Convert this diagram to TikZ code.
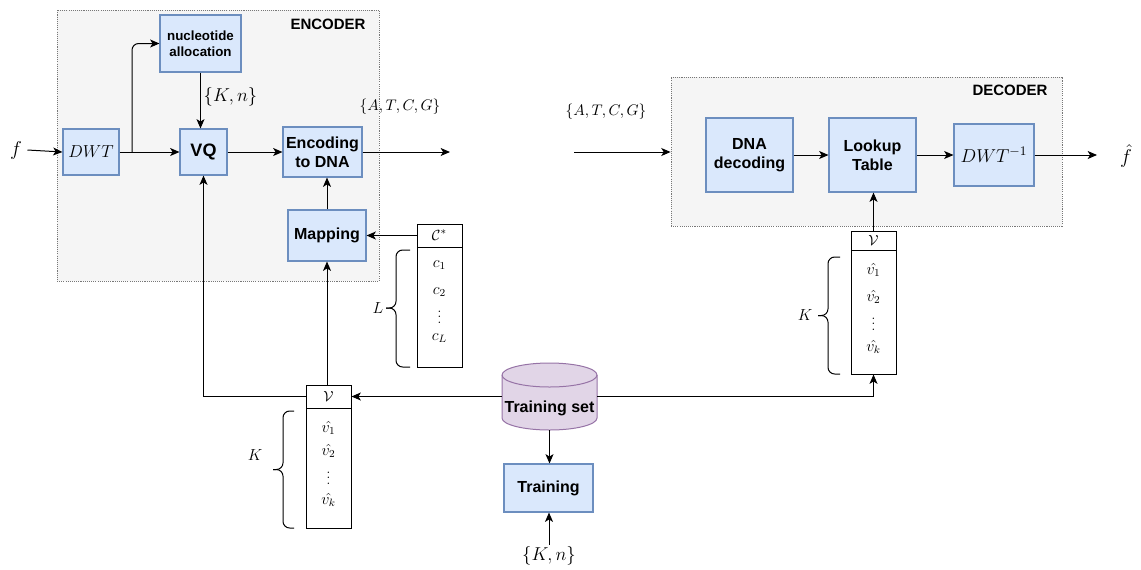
\RequirePackage{fix-cm}
\documentclass[tikz,border=0pt]{standalone}
\usepackage{fontspec}
\newfontfamily\arial{Liberation Sans}
\usetikzlibrary{arrows.meta,calc}
\definecolor{blkfill}{HTML}{DAE8FC}
\definecolor{blkline}{HTML}{6C8EBF}
\definecolor{contfill}{HTML}{F5F5F5}
\definecolor{contline}{HTML}{777777}
\definecolor{tsfill}{HTML}{E1D5E7}
\definecolor{tsline}{HTML}{9673A6}
\newcommand{\fsz}[2]{\fontsize{#1}{#2}\selectfont}
\tikzset{
  blk/.style={draw=blkline, fill=blkfill, line width=0.8pt, inner sep=0pt, align=center,
              font=\arial\bfseries\fsz{12}{14}},
  cont/.style={draw=contline, fill=contfill, dash pattern=on 0.8pt off 0.8pt, line width=0.6pt, inner sep=0pt},
  tab/.style={draw=black, fill=white, line width=0.75pt, inner sep=0pt},
  arr/.style={-{Stealth[length=7pt,width=6pt,inset=1.8pt]}, line width=0.75pt},
  brc/.style={line width=0.75pt, rounded corners=5pt},
  mth/.style={inner sep=0pt, font=\fsz{12}{14}},
  dts/.style={inner sep=0pt, font=\fsz{10}{12}},
  ttl/.style={inner sep=0pt, font=\arial\bfseries\fsz{11.25}{13}},
}
\begin{document}
\begin{tikzpicture}[x=0.75pt,y=-0.75pt]
\useasboundingbox (0,0) rectangle (1141,569);

% containers
\node[cont, minimum width=241.5pt, minimum height=203.25pt] (encbox) at (218,145.5) {};
\node[ttl] (enclab) at (328,24) {ENCODER};
\node[cont, minimum width=293.25pt, minimum height=111.75pt] (decbox) at (866.5,151.5) {};
\node[ttl] (declab) at (1010,90) {DECODER};

% encoder blocks
\node[blk, font=\arial\bfseries\fsz{10}{12.3}, minimum width=60.75pt, minimum height=42.75pt] (nuc) at (200.5,43.5) {nucleotide\\allocation};
\node[blk, font=\fsz{13}{15}, minimum width=42pt, minimum height=34.5pt] (dwt) at (91,152) {$DWT$};
\node[blk, font=\arial\bfseries\fsz{13.5}{15}, minimum width=35.25pt, minimum height=34.5pt] (vq) at (203.5,152) {VQ};
\node[blk, minimum width=59.25pt, minimum height=37.5pt] (enc) at (322.5,152) {Encoding\\to DNA};
\node[blk, minimum width=58.5pt, minimum height=38.25pt] (map) at (327,235.5) {Mapping};

% decoder blocks
\node[blk, minimum width=65.25pt, minimum height=55.5pt] (dnadec) at (749.5,155) {DNA\\decoding};
\node[blk, minimum width=65.25pt, minimum height=55.5pt] (look) at (872.5,155) {Lookup\\Table};
\node[blk, font=\fsz{14}{16}, minimum width=60pt, minimum height=46.5pt] (dwti) at (994,155) {$DWT^{-1}$};

% training
\node[inner sep=0pt, minimum width=71.25pt, minimum height=50.25pt] (ts) at (549.5,396.5) {};
\draw[draw=tsline, fill=tsfill, line width=0.75pt]
  (502,375) -- (502,418) arc[start angle=180, end angle=360, x radius=35.625pt, y radius=9pt]
  -- (597,375) arc[start angle=0, end angle=180, x radius=35.625pt, y radius=9pt] -- cycle;
\draw[draw=tsline, line width=0.75pt] (502,375) arc[start angle=180, end angle=360, x radius=35.625pt, y radius=9pt];
\node[inner sep=0pt, font=\arial\bfseries\fsz{12}{14}] (tstxt) at (549.5,408) {Training set};
\node[blk, minimum width=66.75pt, minimum height=36pt] (train) at (548.5,488) {Training};
\node[inner sep=1pt, font=\fsz{14}{16}] (kn2) at (549,556) {$\{K,n\}$};

% C* table
\node[tab, minimum width=33.75pt, minimum height=17.25pt] (cshead) at (439.5,235.5) {};
\node[mth, font=\fsz{11}{13}] (cstxt) at (439.5,235) {$\mathcal{C}^*$};
\node[tab, minimum width=33.75pt, minimum height=90pt] (csbody) at (439.5,307) {};
\node[mth] (c1) at (439.5,265) {$c_1$};
\node[mth] (c2) at (439.5,292) {$c_2$};
\node[dts] (cd) at (439.5,313) {$\vdots$};
\node[mth] (cL) at (439.5,338) {$c_L$};

% left V table
\node[tab, minimum width=33.75pt, minimum height=17.25pt] (vhead) at (328.5,396.5) {};
\node[mth, font=\fsz{11}{13}] (vtxt) at (328.5,396) {$\mathcal{V}$};
\node[tab, minimum width=33.75pt, minimum height=90pt] (vbody) at (328.5,468) {};
\node[mth] (v1) at (328.5,428) {$\hat{v_1}$};
\node[mth] (v2) at (328.5,451) {$\hat{v_2}$};
\node[dts] (vd) at (328.5,474) {$\vdots$};
\node[mth] (vk) at (328.5,500) {$\hat{v_k}$};

% right V table
\node[tab, minimum width=33.75pt, minimum height=14.25pt] (rvhead) at (873.5,240.5) {};
\node[mth, font=\fsz{11}{13}] (rvtxt) at (873.5,240) {$\mathcal{V}$};
\node[tab, minimum width=33.75pt, minimum height=93pt] (rvbody) at (873.5,312) {};
\node[mth] (rv1) at (873.5,270) {$\hat{v_1}$};
\node[mth] (rv2) at (873.5,297) {$\hat{v_2}$};
\node[dts] (rvd) at (873.5,320) {$\vdots$};
\node[mth] (rvk) at (873.5,347) {$\hat{v_k}$};

% braces and their labels
\draw[brc] (410,250) -- (396,250) -- (396,308) -- (386,308);
\draw[brc] (410,367) -- (396,367) -- (396,308) -- (386,308);
\node[mth] (Llab) at (378,308) {$L$};
\draw[brc] (294,411) -- (283,411) -- (283,469.5) -- (273,469.5);
\draw[brc] (294,528) -- (283,528) -- (283,469.5) -- (273,469.5);
\node[mth] (Klab) at (255,455) {$K$};
\draw[brc] (840,257) -- (828,257) -- (828,315.5) -- (818,315.5);
\draw[brc] (840,374) -- (828,374) -- (828,315.5) -- (818,315.5);
\node[mth] (rKlab) at (805,315) {$K$};

% labels
\node[inner sep=4pt, font=\fsz{15}{17}] (fin) at (16,150) {$f$};
\node[inner sep=1pt, font=\fsz{11.5}{13}] (acgt1) at (400,107) {$\{A,T,C,G\}$};
\node[inner sep=1pt, font=\fsz{11.5}{13}] (acgt2) at (606,112) {$\{A,T,C,G\}$};
\node[inner sep=1pt, font=\fsz{15}{17}] (fhat) at (1126,156) {$\hat{f}$};
\coordinate (br) at (132,152);
\coordinate (encout) at (450,152);
\coordinate (decin) at (574,152);
\coordinate (decout) at (1097,155);

% encoder connectors
\draw[arr] (fin.east) -- (dwt.west);
\draw[arr] (dwt.east) -- (vq.west);
\draw[arr, rounded corners=5pt] (br) |- (nuc.west);
\draw[arr] (nuc.south) -- (nuc.south |- vq.north) node[midway, right, inner sep=2pt, font=\fsz{14}{16}, yshift=3pt] {$\{K,n\}$};
\draw[arr] (vq.east) -- (enc.west);
\draw[arr] (enc.east) -- (encout);
\draw[arr] (map.north) -- (map.north |- enc.south);
\draw[arr] (cshead.west) -- (map.east);
\draw[arr] (ts.west) -- (vhead.east);
\draw[arr] (map.south |- vhead.north) -- (map.south);
\draw[arr] (vhead.west) -| (vq.south);
\draw[arr] (ts.south) -- (ts.south |- train.north);
\draw[arr] (kn2.north) -- (kn2.north |- train.south);
\draw[arr] (ts.east) -| (rvbody.south);

% decoder connectors
\draw[arr] (rvhead.north) -- (rvhead.north |- look.south);
\draw[arr] (decin) -- (decin -| decbox.west);
\draw[arr] (dnadec.east) -- (look.west);
\draw[arr] (look.east) -- (dwti.west);
\draw[arr] (dwti.east) -- (decout);
\end{tikzpicture}
\end{document}
